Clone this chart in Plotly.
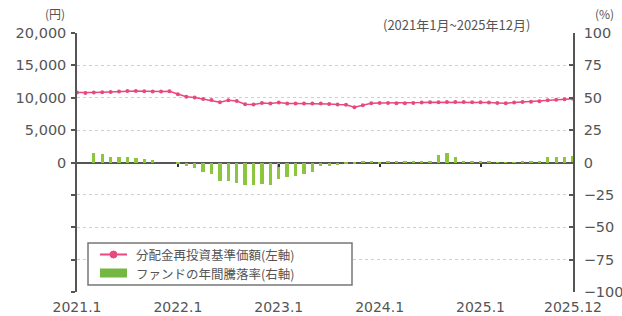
import plotly.graph_objects as go

# ---- data ----
month_idx = list(range(60))
tick_pos = [0, 12, 24, 36, 48, 59]
tick_labels = ["2021.1", "2022.1", "2023.1", "2024.1", "2025.1", "2025.12"]

nav = [10800, 10750, 10800, 10850, 10900, 10950, 11050, 11050, 11000, 10950,
       10950, 11000, 10550, 10150, 10050, 9800, 9650, 9300, 9600, 9500,
       9000, 8950, 9200, 9100, 9250, 9100, 9100, 9100, 9100, 9100,
       9050, 8950, 8900, 8550, 8850, 9150, 9200, 9200, 9150, 9150,
       9200, 9250, 9300, 9300, 9350, 9350, 9350, 9300, 9300, 9250,
       9200, 9150, 9250, 9350, 9400, 9450, 9600, 9700, 9750, 9850]

annual = [None, None, 7, 6.5, 4.5, 4, 4, 3.5, 2.5, 2,
          None, None, -0.5, -3, -4.5, -7, -8.5, -14, -14.5, -15.5,
          -17.5, -17.5, -16.5, -17.5, -12.5, -11.5, -10.5, -8.5, -7, -2.5,
          -3, -2, -1.5, -1, 1.5, 0.5, -0.5, 0.5, 0.5, 0.5,
          0.8, 1, 1.5, 5.5, 7.5, 4.5, 1, 0.5, 0.5, 0.5,
          0.3, 0.3, 0.3, 1, 1, 1.5, 4, 4.5, 4.5, 5]

left_ticks = [20000, 15000, 10000, 5000, 0, -5000, -10000, -15000, -20000]
left_labels = ["20,000", "15,000", "10,000", "5,000", "0", "", "", "", ""]
right_ticks = [100, 75, 50, 25, 0, -25, -50, -75, -100]

name_line = "分配金再投資基準価額(左軸)"
name_bar = "ファンドの年間騰落率(右軸)"

TXT = "#555555"
AX = "#555555"
PINK = "#e8497d"
GREEN = "#8cc63f"
FONT = "DejaVu Sans, Noto Sans CJK JP"
JP = "Noto Sans CJK JP"

fig = go.Figure()
fig.add_trace(go.Scatter(
    x=month_idx, y=nav, name=name_line, mode="lines+markers",
    line=dict(color=PINK, width=1.5),
    marker=dict(color=PINK, size=4),
    yaxis="y", xaxis="x", showlegend=False))
fig.add_trace(go.Bar(
    x=month_idx, y=annual, name=name_bar, width=0.4,
    marker=dict(color=GREEN, line=dict(width=0)),
    yaxis="y2", xaxis="x2", showlegend=False))

fig.update_layout(
    width=622, height=316,
    margin=dict(l=77, r=49, t=33, b=24),
    paper_bgcolor="white", plot_bgcolor="white",
    font=dict(family=FONT, size=14, color=TXT),
    showlegend=False,
    xaxis=dict(range=[0, 59], tickvals=tick_pos, ticktext=tick_labels,
               showgrid=False, zeroline=False, showline=False, ticks="",
               automargin=False,
               tickfont=dict(size=14, color=TXT), ticklabelstandoff=5),
    xaxis2=dict(range=[0, 59], overlaying="x", anchor="free", position=0.5,
                tickvals=tick_pos[1:-1], showticklabels=False, showline=False,
                showgrid=False, zeroline=False, ticks="outside", ticklen=3,
                tickwidth=2, tickcolor="#333333", automargin=False),
    yaxis=dict(range=[-20000, 20000], tickvals=left_ticks, ticktext=left_labels,
               showline=True, linecolor=AX, linewidth=1.5, automargin=False,
               ticks="outside", ticklen=4, tickcolor=AX, tickwidth=1.5,
               showgrid=True, gridcolor="#cfcfcf", griddash="dot", gridwidth=1,
               zeroline=True, zerolinecolor="#555555", zerolinewidth=1.8,
               tickfont=dict(size=14.5, color=TXT), ticklabelstandoff=2),
    yaxis2=dict(range=[-100, 100], tickvals=right_ticks, overlaying="y",
                anchor="x", side="right", showline=True, linecolor=AX,
                linewidth=1.5, automargin=False,
                ticks="inside", ticklen=4, tickcolor=AX, tickwidth=1.5,
                showgrid=False, zeroline=False,
                tickfont=dict(size=14.5, color=TXT), ticklabelstandoff=6),
    bargap=0,
)

# ---- helpers: pixel positions converted to paper coords ----
PL, PR, PT, PB = 77, 573, 33, 292
def px(x):
    return (x - PL) / (PR - PL)
def py(y):
    return (PB - y) / (PB - PT)

fig.add_annotation(text="(円)", xref="paper", yref="paper", x=px(55), y=py(14),
                   xanchor="center", yanchor="middle",
                   showarrow=False, font=dict(family=JP, size=12, color=TXT))
fig.add_annotation(text="(%)", xref="paper", yref="paper", x=px(604), y=py(14),
                   xanchor="center", yanchor="middle",
                   showarrow=False, font=dict(family=JP, size=12, color=TXT))
fig.add_annotation(text="(2021年1月~2025年12月)", xref="paper", yref="paper",
                   x=px(532), y=py(24), xanchor="right", yanchor="middle",
                   showarrow=False, font=dict(family=JP, size=13, color=TXT))

# ---- hand-built legend ----
fig.add_shape(type="rect", xref="paper", yref="paper",
              x0=px(88), x1=px(352), y0=py(285), y1=py(243),
              line=dict(color="#777777", width=1.5), fillcolor="white", layer="above")
fig.add_shape(type="line", xref="paper", yref="paper",
              x0=px(100), x1=px(127), y0=py(254.5), y1=py(254.5),
              line=dict(color=PINK, width=2), layer="above")
fig.add_shape(type="circle", xref="paper", yref="paper",
              x0=px(110), x1=px(117), y0=py(258), y1=py(251),
              line=dict(color=PINK, width=1), fillcolor=PINK, layer="above")
fig.add_shape(type="rect", xref="paper", yref="paper",
              x0=px(100), x1=px(127), y0=py(277.5), y1=py(268.5),
              line=dict(width=0), fillcolor="#74b843", layer="above")
fig.add_annotation(text=name_line, xref="paper", yref="paper",
                   x=px(134), y=py(254.5), xanchor="left", yanchor="middle",
                   showarrow=False, font=dict(family=JP, size=12.5, color=TXT))
fig.add_annotation(text=name_bar, xref="paper", yref="paper",
                   x=px(134), y=py(273), xanchor="left", yanchor="middle",
                   showarrow=False, font=dict(family=JP, size=12.5, color=TXT))

fig.write_html(
    "out.html",
    config={"displayModeBar": False},
    post_script="document.body.style.margin='0';document.body.style.overflow='hidden';",
)
